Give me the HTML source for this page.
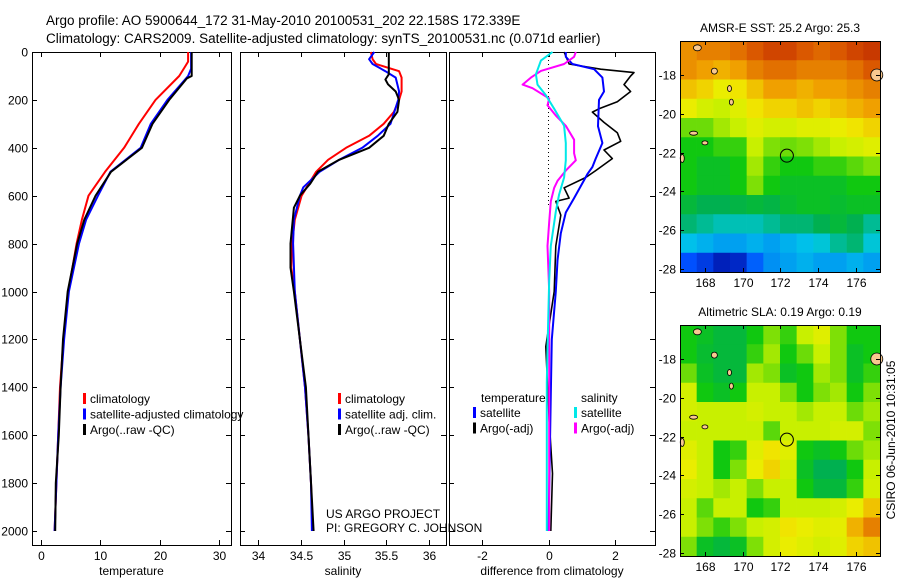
<!DOCTYPE html>
<html><head><meta charset="utf-8"><style>
html,body{margin:0;padding:0;background:#fff;}
svg{display:block;font-family:"Liberation Sans",sans-serif;}
text{fill:#000;}
</style></head><body>
<svg id="fig" width="900" height="580" viewBox="0 0 900 580">
<text x="46" y="25" font-size="13.5">Argo profile: AO 5900644_172 31-May-2010 20100531_202 22.158S 172.339E</text>
<text x="46" y="43" font-size="13.5">Climatology: CARS2009. Satellite-adjusted climatology: synTS_20100531.nc (0.071d earlier)</text>
<g id="root"></g>
</svg>
<script>
// ---------- DATA ----------
const tempDepthRed = [0,40,60,100,200,300,400,500,600,700,800,1000,1200,1400,1600,1800,2000];
const tempRed      = [24.8,24.8,24.3,23.3,19.3,16.5,14,10.8,8,6.9,6.0,4.6,3.8,3.2,2.9,2.6,2.3];
const tempDepthBlue= [0,70,100,200,300,400,500,600,700,800,1000,1200,1400,1600,1800,2000];
const tempBlue     = [25.3,25.3,24.8,21.3,18.5,16.8,11.7,9.6,7.6,6.4,4.7,3.9,3.3,2.9,2.6,2.3];
const tempDepthBlack=[0,100,110,200,300,400,500,600,700,800,1000,1200,1400,1600,1800,2000];
const tempBlack    = [25.4,25.4,24.6,21.6,18.8,17,11.8,9.2,7.3,6.1,4.5,3.7,3.3,3.0,2.5,2.4];

const salDepthRed  = [0,30,50,80,107,165,200,250,300,350,400,450,500,565,600,700,800,900,1000,1200,1400,1600,1800,2000];
const salRed       = [35.32,35.34,35.38,35.65,35.68,35.68,35.65,35.59,35.47,35.3,35.03,34.82,34.68,34.57,34.51,34.43,34.4,34.39,34.43,34.49,34.55,34.59,34.62,34.64];
const salDepthBlue = [0,30,50,80,107,165,200,300,350,400,450,500,565,600,700,800,1000,1200,1400,1600,1800,2000];
const salBlue      = [35.36,35.3,35.34,35.49,35.61,35.65,35.64,35.55,35.4,35.22,34.95,34.72,34.53,34.49,34.42,34.41,34.43,34.49,34.55,34.59,34.62,34.63];
const salDepthBlack= [0,93,115,135,165,200,250,300,350,400,450,500,550,600,650,800,900,1000,1400,2000];
const salBlack     = [35.53,35.53,35.49,35.52,35.61,35.65,35.63,35.53,35.47,35.3,34.95,34.7,34.61,34.49,34.42,34.38,34.38,34.42,34.56,34.65];

const diffDepthTS  = [0,20,50,72,107,165,200,310,380,445,480,510,535,610,670,757,870,1000,1200,1430,2000];
const diffTSat     = [0.52,0.52,0.72,1.37,1.62,1.67,1.52,1.49,1.62,1.42,1.32,1.17,1.07,0.77,0.52,0.37,0.27,0.22,0.1,0.07,0.0];
const diffDepthTA  = [0,50,72,86,100,136,165,208,237,251,294,337,373,409,445,495,524,567,610,624,681,810,1000,1230,1540,1760,2000];
const diffTArgo    = [0.47,0.62,1.57,2.57,2.47,2.27,2.47,2.07,1.52,1.32,1.67,2.07,2.17,1.67,1.92,1.42,1.12,0.47,0.62,0.22,0.37,0.22,0.17,-0.08,0.02,0.12,0.07];
const diffDepthSS  = [0,36,93,136,180,237,308,380,452,524,595,667,810,953,1240,1380,2000];
const diffSSat     = [0.12,-0.23,-0.38,-0.33,-0.08,0.17,0.47,0.52,0.52,0.47,0.32,0.22,0.07,0.02,-0.03,-0.05,-0.05];
const diffDepthSA  = [0,20,50,79,107,136,151,194,222,265,308,366,423,452,495,538,567,624,710,810,1000,1380,2000];
const diffSArgo    = [0.82,0.77,0.47,-0.23,-0.53,-0.78,-0.48,0.02,-0.03,0.22,0.52,0.77,0.77,0.82,0.52,0.27,0.17,0.07,0.02,-0.03,0.02,0.02,0.02];

const depthTicks = [0,200,400,600,800,1000,1200,1400,1600,1800,2000];
const tempTicks = [0,10,20,30];
const salTicks = [34,34.5,35,35.5,36];
const salTickLabels = ["34","34.5","35","35.5","36"];
const diffTicks = [-2,0,2];
const latTicks = [18,20,22,24,26,28];
const lonTicks = [168,170,172,174,176];
const argoLon = 172.339, argoLat = 22.158;

const sstGrid = [
[0.78,0.8,0.8,0.82,0.85,0.88,0.88,0.85,0.83,0.85,0.88,0.9],
[0.78,0.76,0.74,0.76,0.8,0.82,0.82,0.8,0.8,0.8,0.82,0.85],
[0.72,0.7,0.66,0.68,0.72,0.76,0.76,0.74,0.76,0.76,0.78,0.8],
[0.66,0.62,0.6,0.64,0.68,0.7,0.7,0.72,0.7,0.72,0.74,0.76],
[0.55,0.55,0.58,0.6,0.64,0.62,0.62,0.64,0.64,0.66,0.68,0.7],
[0.5,0.5,0.52,0.52,0.6,0.56,0.55,0.56,0.58,0.6,0.62,0.64],
[0.5,0.48,0.48,0.5,0.58,0.52,0.5,0.5,0.52,0.52,0.54,0.56],
[0.5,0.48,0.48,0.5,0.56,0.5,0.48,0.48,0.48,0.48,0.5,0.5],
[0.46,0.44,0.44,0.45,0.46,0.45,0.47,0.48,0.48,0.47,0.48,0.48],
[0.42,0.4,0.38,0.38,0.38,0.4,0.42,0.42,0.44,0.46,0.44,0.4],
[0.34,0.32,0.3,0.3,0.32,0.3,0.32,0.34,0.36,0.4,0.42,0.36],
[0.2,0.15,0.08,0.1,0.22,0.28,0.3,0.32,0.3,0.3,0.32,0.3]];
const slaGrid = [
[0.5,0.48,0.46,0.46,0.5,0.56,0.52,0.6,0.64,0.56,0.5,0.5],
[0.5,0.47,0.46,0.46,0.52,0.58,0.5,0.55,0.6,0.56,0.48,0.5],
[0.55,0.48,0.46,0.46,0.58,0.56,0.48,0.5,0.58,0.56,0.48,0.52],
[0.62,0.5,0.48,0.5,0.6,0.6,0.56,0.5,0.56,0.58,0.5,0.56],
[0.62,0.6,0.6,0.6,0.62,0.6,0.6,0.58,0.6,0.6,0.55,0.58],
[0.6,0.6,0.6,0.6,0.6,0.54,0.6,0.6,0.6,0.62,0.62,0.56],
[0.64,0.6,0.5,0.52,0.64,0.68,0.64,0.5,0.48,0.5,0.55,0.58],
[0.66,0.6,0.5,0.56,0.66,0.7,0.62,0.48,0.44,0.44,0.5,0.6],
[0.62,0.6,0.58,0.6,0.56,0.6,0.6,0.5,0.46,0.46,0.52,0.62],
[0.6,0.54,0.6,0.6,0.5,0.52,0.6,0.6,0.6,0.62,0.66,0.72],
[0.6,0.56,0.52,0.56,0.6,0.62,0.68,0.66,0.64,0.65,0.74,0.8],
[0.56,0.48,0.46,0.48,0.56,0.62,0.66,0.64,0.62,0.64,0.7,0.72]];

// ---------- HELPERS ----------
const NS="http://www.w3.org/2000/svg";
const root=document.getElementById('root');
function el(tag,attrs,parent){const e=document.createElementNS(NS,tag);for(const k in attrs)e.setAttribute(k,attrs[k]);(parent||root).appendChild(e);return e;}
function lin(d0,d1,r0,r1){return v=>r0+(v-d0)*(r1-r0)/(d1-d0);}
const yDepth=lin(0,2000,52,531);
const PB=545, PT=52;

function panel(name,L,R,xs,ticks,labels,title,yLabels){
  const g=el('g',{});
  
  
  const fr=el('rect',{x:L+0.5,y:PT+0.5,width:R-L,height:PB-PT,fill:'none',stroke:'#000','stroke-width':1},g);
  
  
  depthTicks.forEach(d=>{
    const y=Math.round(yDepth(d))+0.5;
    el('line',{x1:L,x2:L+5,y1:y,y2:y,stroke:'#000'},g);
    el('line',{x1:R-5,x2:R,y1:y,y2:y,stroke:'#000'},g);
    if(yLabels){const t=el('text',{x:L-4,y:y+4,'font-size':12,'text-anchor':'end'},g);t.textContent=d;
      
      }
  });
  ticks.forEach((v,i)=>{
    const x=Math.round(xs(v))+0.5;
    el('line',{x1:x,x2:x,y1:PB-5,y2:PB,stroke:'#000'},g);
    el('line',{x1:x,x2:x,y1:PT,y2:PT+5,stroke:'#000'},g);
    const t=el('text',{x:x,y:PB+15,'font-size':12,'text-anchor':'middle'},g);t.textContent=labels[i];
    
    
  });
  const tt=el('text',{x:(L+R)/2,y:575,'font-size':12,'text-anchor':'middle'},g);tt.textContent=title;
  
  
  return g;
}
function series(name,depths,vals,xs,color,g,extra){
  const pts=depths.map((d,i)=>xs(vals[i]).toFixed(1)+','+yDepth(d).toFixed(1)).join(' ');
  const p=el('polyline',Object.assign({points:pts,fill:'none',stroke:color,'stroke-width':2,'stroke-linejoin':'round'},extra||{}),g);
  
  
}
function legend(g,x,y0,items){
  items.forEach((it,i)=>{
    const y=y0+i*15.5;
    el('rect',{x:x,y:y-10,width:3,height:11,fill:it[1]},g);
    const t=el('text',{x:x+7,y:y,'font-size':12},g);t.textContent=it[0];
    
    
  });
}

// ---------- PANEL 1: temperature ----------
const xT=lin(0,30,41,219);
const g1=panel('temperature-panel',32,231,xT,tempTicks,tempTicks.map(String),'temperature',true);
series('temp-climatology-line',tempDepthRed,tempRed,xT,'#ff0000',g1);
series('temp-satellite-adjusted-line',tempDepthBlue,tempBlue,xT,'#0000ff',g1);
series('temp-argo-line',tempDepthBlack,tempBlack,xT,'#000000',g1);
legend(g1,83,403,[['climatology','#ff0000'],['satellite-adjusted climatology','#0000ff'],['Argo(..raw -QC)','#000']]);

// ---------- PANEL 2: salinity ----------
const xS=lin(34,36,258,429);
const g2=panel('salinity-panel',240,446,xS,salTicks,salTickLabels,'salinity',false);
series('sal-climatology-line',salDepthRed,salRed,xS,'#ff0000',g2);
series('sal-satellite-adjusted-line',salDepthBlue,salBlue,xS,'#0000ff',g2);
series('sal-argo-line',salDepthBlack,salBlack,xS,'#000000',g2);
legend(g2,338,403,[['climatology','#ff0000'],['satellite adj. clim.','#0000ff'],['Argo(..raw -QC)','#000']]);
const c1=el('text',{x:326,y:518,'font-size':12},g2);c1.textContent='US ARGO PROJECT';


const c2=el('text',{x:326,y:532,'font-size':12},g2);c2.textContent='PI: GREGORY C. JOHNSON';



// ---------- PANEL 3: difference ----------
const xD=lin(-2,2,482,615);
const g3=panel('difference-panel',449,655,xD,diffTicks,diffTicks.map(v=>v===-2?'-2':String(v)),'difference from climatology',false);
const zl=el('line',{x1:xD(0),x2:xD(0),y1:PT,y2:yDepth(640),stroke:'#000','stroke-dasharray':'1,3'},g3);


series('diff-temp-argo-line',diffDepthTA,diffTArgo,xD,'#000000',g3,{'stroke-width':1.6});
series('diff-temp-satellite-line',diffDepthTS,diffTSat,xD,'#0000ff',g3);
series('diff-sal-argo-line',diffDepthSA,diffSArgo,xD,'#ff00ff',g3);
series('diff-sal-satellite-line',diffDepthSS,diffSSat,xD,'#00e8e8',g3);
const lt=el('text',{x:481,y:402,'font-size':12},g3);lt.textContent='temperature';


const ls=el('text',{x:581,y:402,'font-size':12},g3);ls.textContent='salinity';


legend(g3,473,417,[['satellite','#0000ff'],['Argo(-adj)','#000']]);
legend(g3,574,417,[['satellite','#00e8e8'],['Argo(-adj)','#ff00ff']]);

// ---------- MAPS ----------
const stops=[[0,[0,0,140]],[0.2,[0,80,255]],[0.35,[0,200,232]],[0.44,[0,176,80]],[0.5,[16,200,16]],[0.6,[200,240,0]],[0.67,[240,236,0]],[0.76,[240,160,0]],[0.86,[216,80,0]],[1,[160,0,0]]];
function cmap(v){for(let i=1;i<stops.length;i++){if(v<=stops[i][0]){const a=stops[i-1],b=stops[i];const t=(v-a[0])/(b[0]-a[0]);return 'rgb('+a[1].map((c,k)=>Math.round(c+(b[1][k]-c)*t)).join(',')+')';}}return 'rgb(160,0,0)';}
const LON0=166.68,LON1=177.27,LAT0=16.25,LAT1=28.15;
function map(name,top,grid,title){
  const L=680,R=880,B=top+231;
  const xs=lin(LON0,LON1,L,R), ys=lin(LAT0,LAT1,top,B);
  const g=el('g',{});
  
  
  const rows=grid.length, cols=grid[0].length;
  const dlat=(LAT1-LAT0)/rows, dlon=(LON1-LON0)/cols;
  grid.forEach((row,r)=>row.forEach((v,c)=>{
    const x0=xs(LON0+c*dlon), y0=ys(LAT0+r*dlat);
    const cell=el('rect',{x:x0,y:y0,width:xs(LON0+(c+1)*dlon)-x0+0.3,height:ys(LAT0+(r+1)*dlat)-y0+0.3,fill:cmap(v)},g);
    
    
  }));
  // islands (decorative land shapes)
  [[167.6,16.6,4,3],[168.5,17.8,3,3],[169.3,18.7,2,3],[169.4,19.4,2,3],[167.4,21.0,4,2],[168.0,21.5,3,2],[166.8,22.3,2,4],[177.1,18.0,6,6]].forEach(s=>{
    el('ellipse',{cx:xs(s[0]),cy:ys(s[1]),rx:s[2],ry:s[3],fill:'#f8c890',stroke:'#000','stroke-width':0.8},g);
  });
  const fr=el('rect',{x:L+0.5,y:top+0.5,width:R-L,height:B-top,fill:'none',stroke:'#000'},g);
  
  
  latTicks.forEach(v=>{const y=Math.round(ys(v))+0.5;
    el('line',{x1:L,x2:L+4,y1:y,y2:y,stroke:'#000'},g);el('line',{x1:R-4,x2:R,y1:y,y2:y,stroke:'#000'},g);
    const t=el('text',{x:L-4,y:y+4,'font-size':12,'text-anchor':'end'},g);t.textContent='-'+v;
    
    });
  lonTicks.forEach(v=>{const x=Math.round(xs(v))+0.5;
    el('line',{x1:x,x2:x,y1:B-4,y2:B,stroke:'#000'},g);el('line',{x1:x,x2:x,y1:top,y2:top+4,stroke:'#000'},g);
    const t=el('text',{x:x,y:B+15,'font-size':12,'text-anchor':'middle'},g);t.textContent=v;
    
    });
  const ci=el('circle',{cx:xs(argoLon),cy:ys(argoLat),r:6.5,fill:'none',stroke:'#000','stroke-width':1},g);
  
  
  const tt=el('text',{x:(L+R)/2,y:top-9,'font-size':12,'text-anchor':'middle'},g);tt.textContent=title;
  
  
}
map('sst-map',41,sstGrid,'AMSR-E SST: 25.2 Argo: 25.3');
map('sla-map',325,slaGrid,'Altimetric SLA: 0.19 Argo: 0.19');
const cs=el('text',{x:0,y:0,'font-size':12,'text-anchor':'middle',transform:'translate(895,440) rotate(-90)'});
cs.textContent='CSIRO 06-Jun-2010 10:31:05';


</script>
</body></html>
